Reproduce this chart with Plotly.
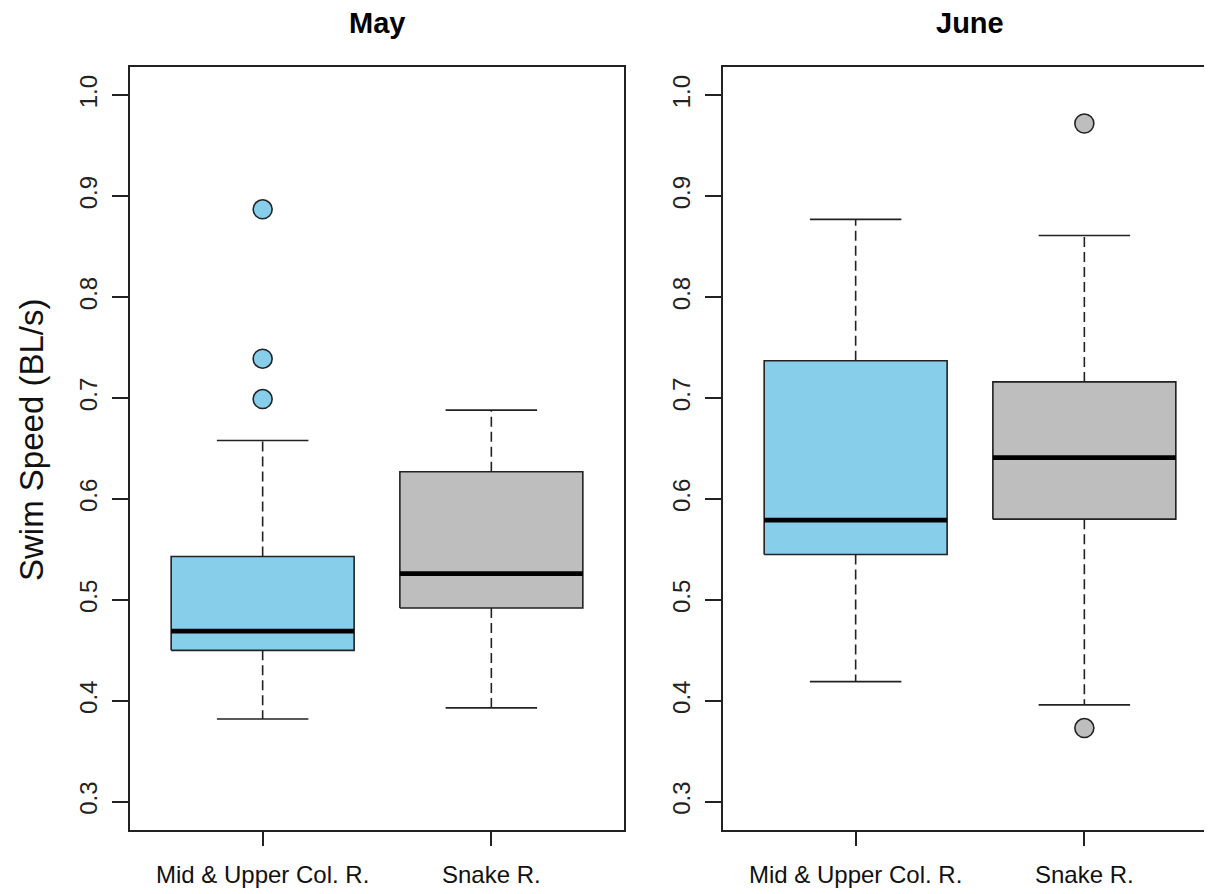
import plotly.graph_objects as go

# ---- data ----
months = ["May", "June"]
groups = ["Mid & Upper Col. R.", "Snake R."]
colors = ["#87CEEB", "#BEBEBE"]

# per month, per group: lower whisker, Q1, median, Q3, upper whisker
may_lower = [0.382, 0.393]
may_q1 = [0.450, 0.492]
may_median = [0.469, 0.526]
may_q3 = [0.543, 0.627]
may_upper = [0.658, 0.688]
may_outliers = [[0.887, 0.739, 0.699], []]

june_lower = [0.419, 0.396]
june_q1 = [0.545, 0.580]
june_median = [0.579, 0.641]
june_q3 = [0.737, 0.716]
june_upper = [0.877, 0.861]
june_outliers = [[], [0.972, 0.373]]

y_ticks = [0.3, 0.4, 0.5, 0.6, 0.7, 0.8, 0.9, 1.0]
y_tick_labels = ["0.3", "0.4", "0.5", "0.6", "0.7", "0.8", "0.9", "1.0"]
y_title = "Swim Speed (BL/s)"

# ---- style ----
FONT = "Liberation Sans, Arial, Helvetica, sans-serif"
LINE = "#222222"
LW = 1.6
HALF_BOX = 0.4
HALF_CAP = 0.2

OFF = 8                     # page body margin in the browser
W, H = 1212 - OFF, 894 - OFF
fig = go.Figure()

panels = [
    dict(lower=may_lower, q1=may_q1, med=may_median, q3=may_q3, upper=may_upper, out=may_outliers),
    dict(lower=june_lower, q1=june_q1, med=june_median, q3=june_q3, upper=june_upper, out=june_outliers),
]

for p_i, pdata in enumerate(panels):
    xa = "x" if p_i == 0 else "x2"
    ya = "y" if p_i == 0 else "y2"
    for g_i, g in enumerate(groups):
        c = g_i + 1
        lo, q1, md, q3, up = (pdata["lower"][g_i], pdata["q1"][g_i], pdata["med"][g_i],
                              pdata["q3"][g_i], pdata["upper"][g_i])
        # whiskers (dashed)
        for a, b in [(q3, up), (q1, lo)]:
            fig.add_trace(go.Scatter(x=[c, c], y=[a, b], mode="lines", xaxis=xa, yaxis=ya,
                                     line=dict(color=LINE, width=LW, dash="10px,5px"),
                                     showlegend=False, hoverinfo="skip"))
        # caps
        for v in [up, lo]:
            fig.add_trace(go.Scatter(x=[c - HALF_CAP, c + HALF_CAP], y=[v, v], mode="lines",
                                     xaxis=xa, yaxis=ya, line=dict(color=LINE, width=LW),
                                     showlegend=False, hoverinfo="skip"))
        # box
        fig.add_trace(go.Scatter(
            x=[c - HALF_BOX, c + HALF_BOX, c + HALF_BOX, c - HALF_BOX, c - HALF_BOX],
            y=[q1, q1, q3, q3, q1], mode="lines", fill="toself", fillcolor=colors[g_i],
            xaxis=xa, yaxis=ya, line=dict(color=LINE, width=LW),
            showlegend=False, hoverinfo="skip"))
        # median
        fig.add_trace(go.Scatter(x=[c - HALF_BOX, c + HALF_BOX], y=[md, md], mode="lines",
                                 xaxis=xa, yaxis=ya, line=dict(color="black", width=4.8),
                                 showlegend=False, hoverinfo="skip"))
        # outliers
        outs = pdata["out"][g_i]
        if outs:
            fig.add_trace(go.Scatter(x=[c] * len(outs), y=outs, mode="markers", xaxis=xa, yaxis=ya,
                                     marker=dict(size=19, color=colors[g_i],
                                                 line=dict(color=LINE, width=1.6)),
                                     showlegend=False, hoverinfo="skip"))

# panel geometry (screen pixels of the reference, minus page offset)
left1, right1 = 130 - OFF, 624 - OFF
left2 = 723 - OFF
top_px, bot_px = 67 - OFF, 830 - OFF
unit = (right1 - left1) / 2.16
x2_end = 0.42 + (W - left2) / unit

ydom = [(H - bot_px) / H, (H - top_px) / H]

common_y = dict(range=[0.272, 1.028], tickmode="array", tickvals=y_ticks, ticktext=y_tick_labels,
                tickangle=-90, ticks="outside", ticklen=16, tickwidth=LW, tickcolor=LINE,
                ticklabelstandoff=6,
                showline=True, linecolor=LINE, linewidth=LW, showgrid=False, zeroline=False,
                tickfont=dict(family=FONT, size=24, color="#222"), domain=ydom)
common_x = dict(tickmode="array", tickvals=[1, 2], ticktext=groups,
                ticks="outside", ticklen=14, tickwidth=LW, tickcolor=LINE,
                ticklabelstandoff=8,
                showline=True, linecolor=LINE, linewidth=LW, mirror=True, showgrid=False,
                zeroline=False, tickfont=dict(family=FONT, size=24, color="#111"))

fig.update_layout(
    width=W, height=H, margin=dict(l=0, r=0, t=0, b=0),
    paper_bgcolor="white", plot_bgcolor="white",
    xaxis=dict(common_x, range=[0.42, 2.58], domain=[left1 / W, right1 / W], anchor="y"),
    yaxis=dict(common_y, anchor="x", mirror=True),
    xaxis2=dict(common_x, range=[0.42, x2_end], domain=[left2 / W, 1.0], anchor="y2"),
    yaxis2=dict(common_y, anchor="x2", mirror=False),
    showlegend=False,
)

# panel titles
for i, m in enumerate(months):
    xc = (left1 + right1) / 2 if i == 0 else left2 + (right1 - left1) / 2
    fig.add_annotation(text=f"<b>{m}</b>", x=xc / W, y=(H - (23 - OFF)) / H, xref="paper", yref="paper",
                       showarrow=False, xanchor="center", yanchor="middle",
                       font=dict(family=FONT, size=29, color="black"))

# y-axis title
fig.add_annotation(text=y_title, x=(32 - OFF) / W, y=(H - (440 - OFF)) / H, xref="paper", yref="paper",
                   showarrow=False, textangle=-90, xanchor="center", yanchor="middle",
                   font=dict(family=FONT, size=33, color="#111"))

fig.write_html("out.html")
